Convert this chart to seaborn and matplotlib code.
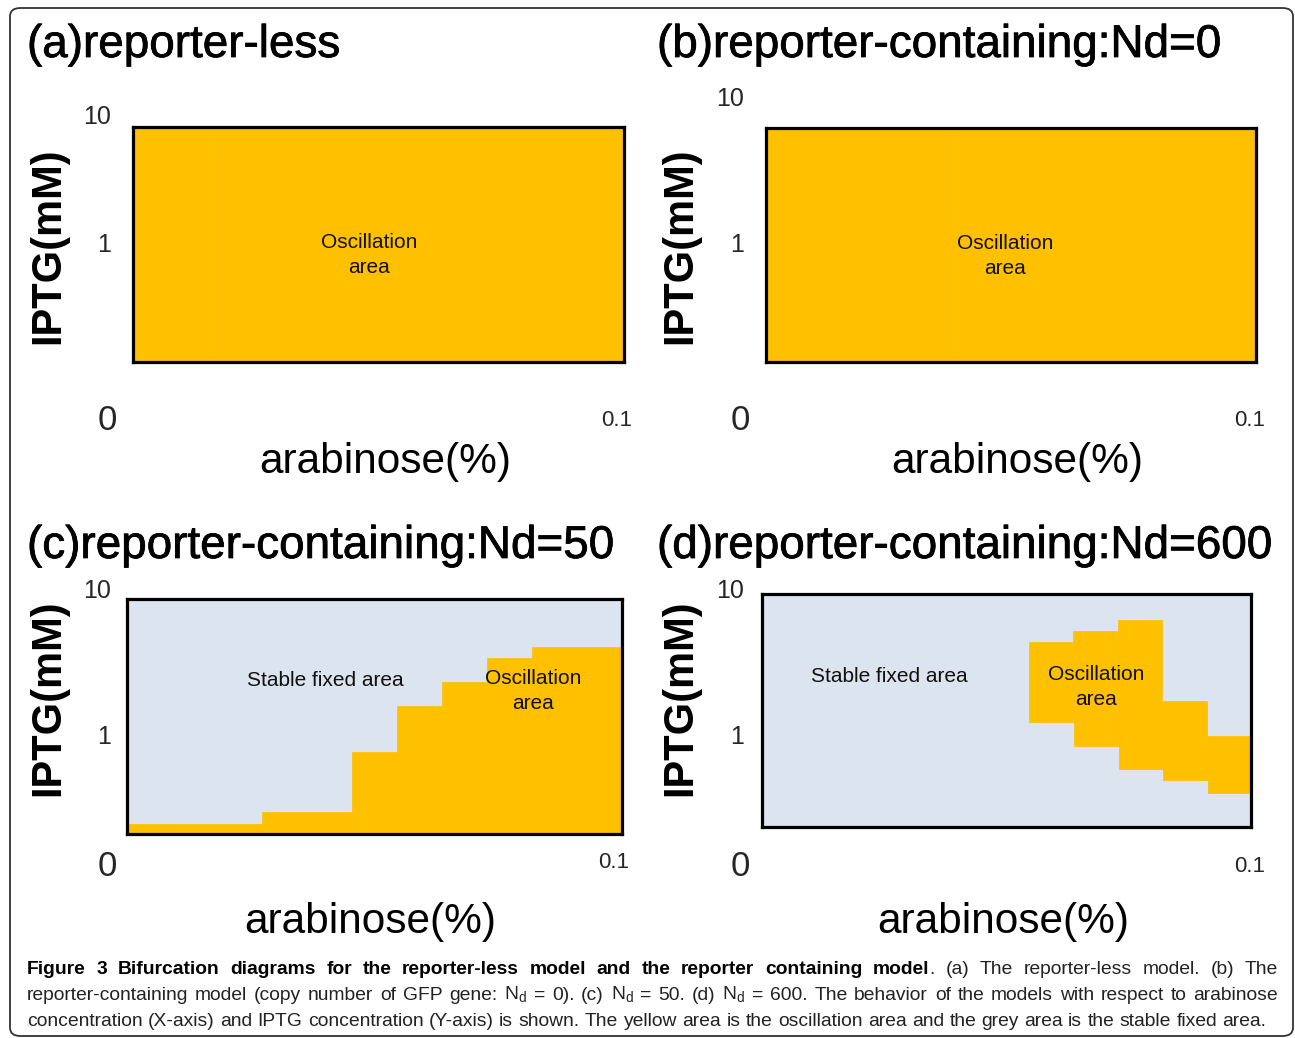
import numpy as np
import pandas as pd
import matplotlib
matplotlib.use("Agg")
import matplotlib.pyplot as plt
import matplotlib.patheffects as pe
from matplotlib.patches import FancyBboxPatch
from matplotlib.ticker import NullLocator
import seaborn as sns

# ---------------- data ----------------
arabinose = [0.00, 0.01, 0.02, 0.03, 0.04, 0.05, 0.06, 0.07, 0.08, 0.09, 0.10]
iptg_range = [0.2, 10]

# oscillation area per arabinose column: upper / lower IPTG bound (mM)
osc_high_a = [10, 10, 10, 10, 10, 10, 10, 10, 10, 10, 10]
osc_low_a = [0.2, 0.2, 0.2, 0.2, 0.2, 0.2, 0.2, 0.2, 0.2, 0.2, 0.2]
osc_high_b = [10, 10, 10, 10, 10, 10, 10, 10, 10, 10, 10]
osc_low_b = [0.2, 0.2, 0.2, 0.2, 0.2, 0.2, 0.2, 0.2, 0.2, 0.2, 0.2]
osc_high_c = [0.236, 0.236, 0.236, 0.288, 0.288, 0.78, 1.69, 2.51, 3.74, 4.5, 4.5]
osc_low_c = [0.2, 0.2, 0.2, 0.2, 0.2, 0.2, 0.2, 0.2, 0.2, 0.2, 0.2]
osc_high_d = [0.2, 0.2, 0.2, 0.2, 0.2, 0.2, 4.47, 5.37, 6.45, 1.66, 0.92]
osc_low_d = [0.2, 0.2, 0.2, 0.2, 0.2, 0.2, 1.15, 0.77, 0.52, 0.43, 0.35]

titles = ["(a)reporter-less", "(b)reporter-containing:Nd=0",
          "(c)reporter-containing:Nd=50", "(d)reporter-containing:Nd=600"]
x_label = "arabinose(%)"
y_label = "IPTG(mM)"
tick_top, tick_mid, tick_origin, tick_right = "10", "1", "0", "0.1"

caption_bold = "Figure 3 Bifurcation diagrams for the reporter-less model and the reporter containing model"
caption_l1 = ". (a) The reporter-less model. (b) The"
caption_l2 = ("reporter-containing model (copy number of GFP gene: N$_\\mathregular{d}$ = 0). "
              "(c) N$_\\mathregular{d}$ = 50. (d) N$_\\mathregular{d}$ = 600. The behavior of the models "
              "with respect to arabinose")
caption_l3 = ("concentration (X-axis) and IPTG concentration (Y-axis) is shown. The yellow area "
              "is the oscillation area and the grey area is the stable fixed area.")

YELLOW = "#FFC000"
GREY = "#DCE4F0"

# ---------------- figure ----------------
sns.set_theme(style="white")
plt.rcParams["font.family"] = ["Liberation Sans", "DejaVu Sans"]

W, H = 1295, 1038
fig = plt.figure(figsize=(W / 100, H / 100), dpi=100)

def fx(x):
    return x / W

def fy(y):
    return 1 - y / H

# axes boxes in pixels: left, top, right, bottom
boxes = [(133, 127, 624, 362), (766, 128, 1256, 362),
         (127, 599, 622, 834), (762, 594, 1251, 827)]
highs = [osc_high_a, osc_high_b, osc_high_c, osc_high_d]
lows = [osc_low_a, osc_low_b, osc_low_c, osc_low_d]

for (l, t, r, b), hi, lo in zip(boxes, highs, lows):
    ax = fig.add_axes([fx(l), fy(b), (r - l) / W, (b - t) / H])
    ax.set_facecolor(GREY)
    df = pd.DataFrame({"arabinose": arabinose, "high": hi, "low": lo})
    sns.barplot(data=df, x="arabinose", y="high", color=YELLOW, saturation=1,
                width=1.0, edgecolor=YELLOW, linewidth=0.5, errorbar=None, ax=ax)
    sns.barplot(data=df, x="arabinose", y="low", color=GREY, saturation=1,
                width=1.0, edgecolor=GREY, linewidth=0.9, errorbar=None, ax=ax)
    ax.set_yscale("log")
    ax.set_ylim(*iptg_range)
    ax.set_xlim(-0.5, len(arabinose) - 0.5)
    ax.set_xticks([])
    ax.set_yticks([])
    ax.yaxis.set_minor_locator(NullLocator())
    ax.set_xlabel("")
    ax.set_ylabel("")
    for s in ax.spines.values():
        s.set_visible(True)
        s.set_color("black")
        s.set_linewidth(2.3)
        s.set_zorder(5)

# titles
title_pos = [(27, 45), (657, 45), (27, 546), (657, 546)]
for (x, y), t in zip(title_pos, titles):
    fig.text(fx(x), fy(y), t, fontsize=33, ha="left", va="center", color="black",
             path_effects=[pe.withStroke(linewidth=0.55, foreground="black")])

# axis labels
ylab_pos = [(48, 246), (680, 246), (48, 698), (680, 698)]
xlab_pos = [(385, 462), (1017, 462), (370, 922), (1003, 922)]
for (x, y) in ylab_pos:
    fig.text(fx(x), fy(y), y_label, fontsize=30, fontweight="bold", rotation=90,
             ha="center", va="center", color="black")
for (x, y) in xlab_pos:
    fig.text(fx(x), fy(y), x_label, fontsize=30.5, ha="center", va="center", color="black")

# tick labels
tick_sets = [
    [(97, 117), (104, 245), (107, 420), (617, 420)],
    [(730, 99), (737, 245), (740, 420), (1250, 420)],
    [(97, 591), (104, 737), (107, 867), (614, 862)],
    [(730, 591), (737, 737), (740, 867), (1250, 867)],
]
for pts in tick_sets:
    (x1, y1), (x2, y2), (x3, y3), (x4, y4) = pts
    fig.text(fx(x1), fy(y1), tick_top, fontsize=18, ha="center", va="center")
    fig.text(fx(x2), fy(y2), tick_mid, fontsize=18, ha="center", va="center")
    fig.text(fx(x3), fy(y3), tick_origin, fontsize=25, ha="center", va="center")
    fig.text(fx(x4), fy(y4), tick_right, fontsize=16, ha="center", va="center")

# area annotations
osc_pos = [(369, 255), (1005, 256), (533, 691), (1096, 687)]
for (x, y) in osc_pos:
    fig.text(fx(x), fy(y), "Oscillation\narea", fontsize=15, ha="center", va="center",
             linespacing=1.45, color="#111111")
for (x, y) in [(325, 680), (889, 676)]:
    fig.text(fx(x), fy(y), "Stable fixed area", fontsize=15, ha="center", va="center",
             color="#111111")

# caption (justified like the journal layout)
cap_size = 13.9
renderer = fig.canvas.get_renderer()

def measure(s, weight):
    t = fig.text(0, 0, s, fontsize=cap_size, fontweight=weight)
    w = t.get_window_extent(renderer).width
    t.remove()
    return w

def tokens_of(pieces):
    toks = [[]]
    for text, weight in pieces:
        parts = text.split(" ")
        for i, p in enumerate(parts):
            if i > 0:
                toks.append([])
            if p:
                toks[-1].append((p, weight))
    return [t for t in toks if t]

def draw_line(pieces, y, justify, x0=27, x1=1278):
    toks = tokens_of(pieces)
    widths = [[measure(p, w) for p, w in tok] for tok in toks]
    total = sum(sum(ws) for ws in widths)
    space = measure("a b", "normal") - measure("ab", "normal")
    gap = (x1 - x0 - total) / (len(toks) - 1) if justify else space
    x = x0
    for tok, ws in zip(toks, widths):
        for (p, w), pw in zip(tok, ws):
            col = "black" if w == "bold" else "#222222"
            fig.text(fx(x), fy(y), p, fontsize=cap_size, fontweight=w,
                     ha="left", va="center", color=col)
            x += pw
        x += gap

draw_line([(caption_bold, "bold"), (caption_l1, "normal")], 969, True)
draw_line([(caption_l2, "normal")], 995, True)
draw_line([(caption_l3, "normal")], 1021, False)

# rounded outer frame
frame = FancyBboxPatch((fx(10), fy(1036)), fx(1293) - fx(10), fy(8) - fy(1036),
                       boxstyle="round,pad=0,rounding_size=0.008",
                       transform=fig.transFigure, fill=False,
                       edgecolor="#333333", linewidth=1.3)
fig.patches.append(frame)

fig.savefig("out.png", dpi=100)
